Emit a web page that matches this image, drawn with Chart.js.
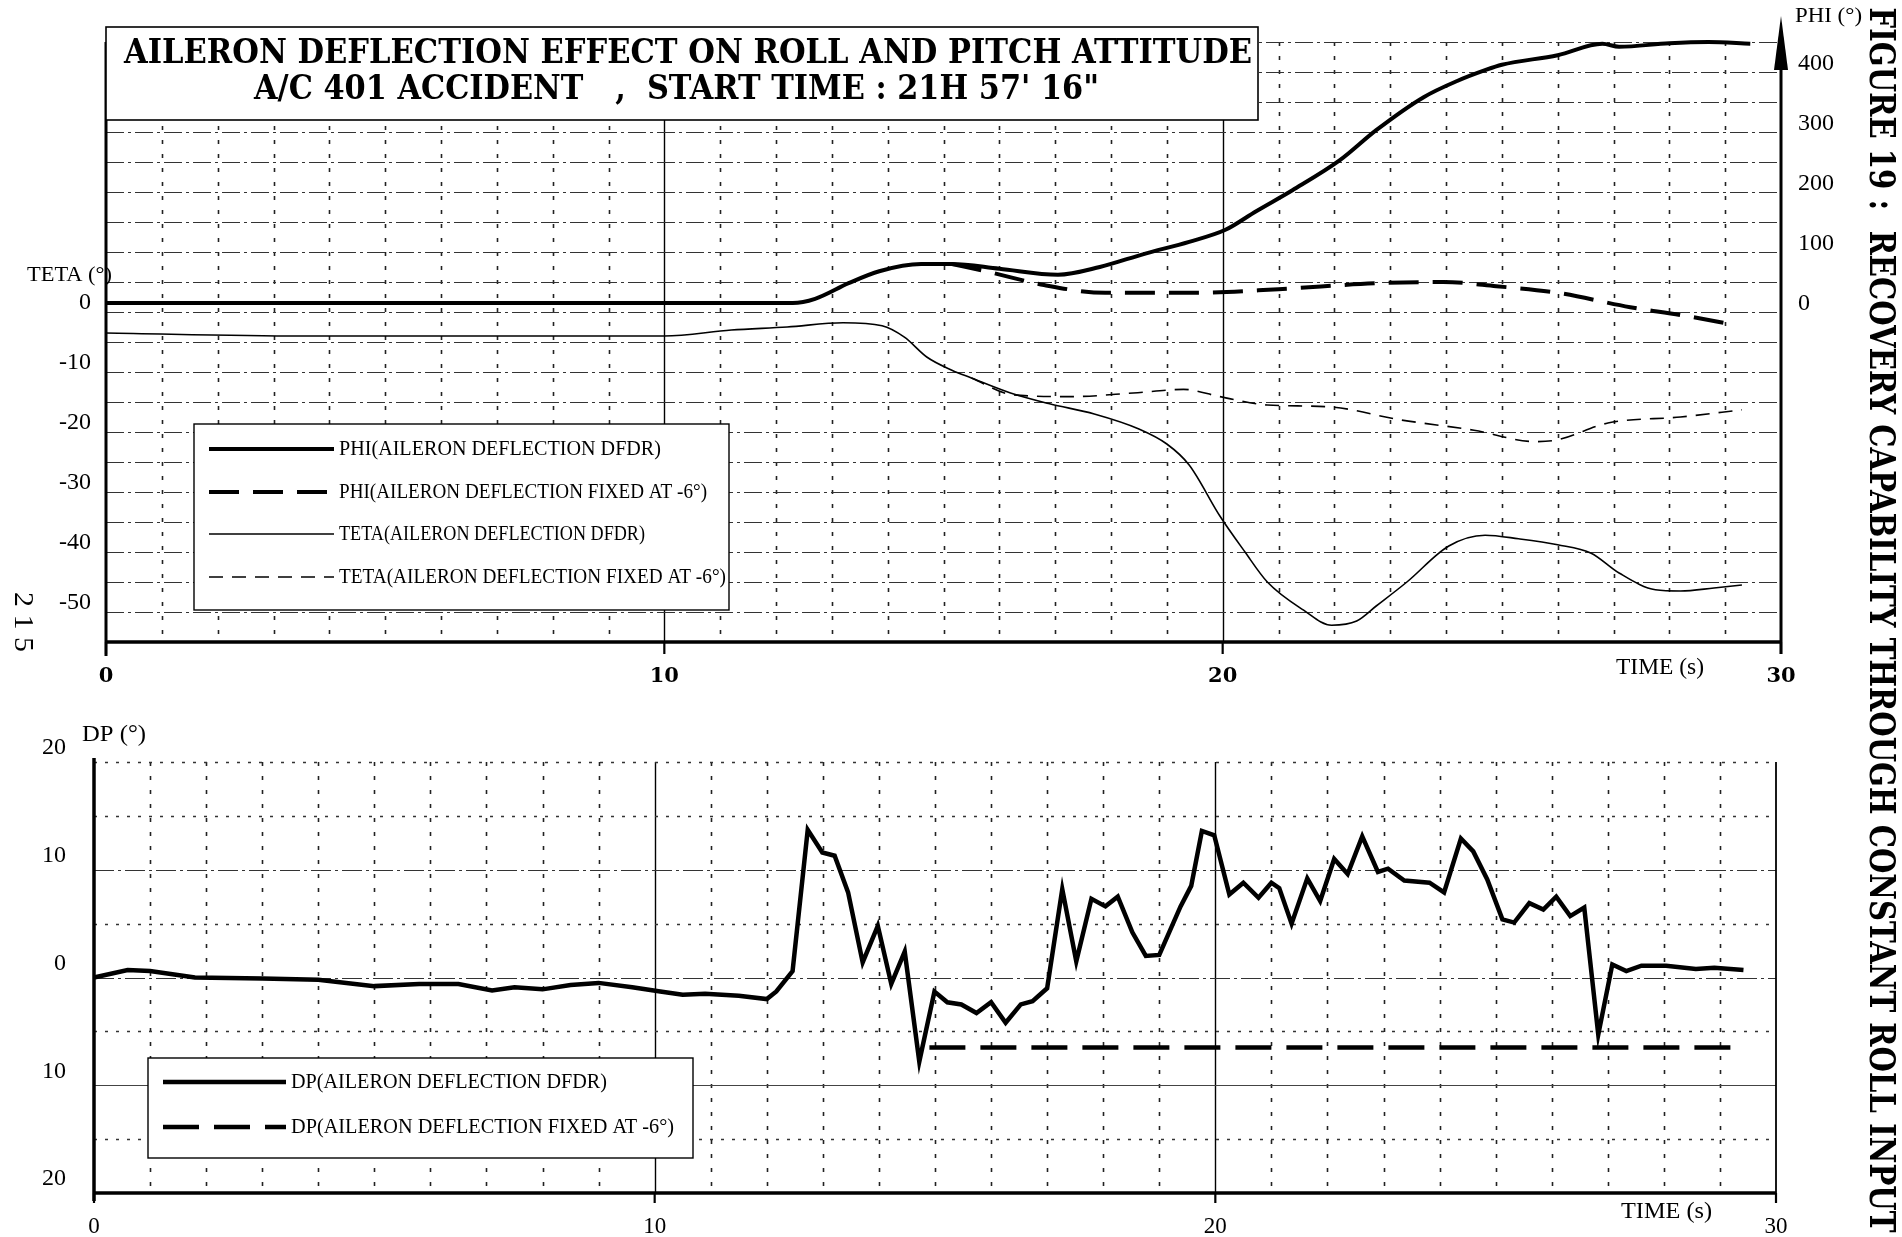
<!DOCTYPE html>
<html>
<head>
<meta charset="utf-8">
<title>Aileron deflection effect on roll and pitch attitude</title>
<script src="https://cdn.jsdelivr.net/npm/chart.js@4.4.1/dist/chart.umd.min.js"></script>
<style>
    html, body { margin: 0; padding: 0; background: #fff; }
    #wrap { position: relative; width: 1902px; height: 1237px; overflow: hidden; background: #fff; }
    #top { position: absolute; left: 0; top: 0; width: 1902px; height: 700px; }
    #bottom { position: absolute; left: 0; top: 700px; width: 1902px; height: 537px; }
    #deco { position: absolute; left: 0; top: 0; pointer-events: none; }
</style>
</head>
<body>
<div id="wrap">
    <canvas id="top" width="1902" height="700"></canvas>
    <canvas id="bottom" width="1902" height="537"></canvas>
    <canvas id="deco" width="1902" height="1237"></canvas>
</div>
<script>
"use strict";

// Values (time in s)
var phiDfdrT = [0, 10, 12.3, 12.7, 13.3, 13.85, 14.6, 15.15, 16.0, 17.05, 17.8, 18.6, 19.4, 20.05, 20.6, 21.25, 22.1, 22.75, 23.6, 24.2, 24.7, 25.0, 26.0, 26.8, 27.1, 28.0, 28.7, 29.45];
var phiDfdr = [15, 15, 15, 22, 48, 68, 80, 80, 72, 62, 75, 97, 117, 137, 168, 203, 253, 303, 358, 385, 403, 412, 428, 447, 442, 448, 450, 447];

var phiFixedT = [15.15, 15.8, 16.8, 17.9, 19.5, 21.0, 22.75, 23.95, 24.9, 26.0, 27.3, 28.2, 29.2];
var phiFixed = [80, 67, 45, 32, 32, 38, 48, 50, 43, 32, 8, -5, -22];

var tetaDfdrT = [0, 3.5, 10, 11.2, 12.2, 13.2, 13.9, 14.3, 14.7, 15.15, 15.5, 16.2, 16.9, 17.7, 18.5, 19.0, 19.4, 19.95, 20.4, 20.8, 21.45, 21.95, 22.4, 22.75, 23.3, 24.05, 24.7, 25.3, 26.0, 26.6, 27.1, 27.75, 28.2, 28.8, 29.3];
var tetaDfdr = [-3.5, -4, -4, -3, -2.5, -1.8, -2.3, -4.2, -7.5, -9.7, -11, -13.5, -15.3, -17, -19.5, -22, -25.5, -34, -40, -45, -49.7, -52.2, -51.5, -49, -45, -39, -37.2, -37.8, -38.8, -40.2, -43.5, -46.3, -46.5, -46, -45.5];

var tetaFixedT = [15.5, 16.25, 17.3, 18.4, 19.3, 19.95, 20.8, 21.9, 23.2, 24.5, 25.6, 26.0, 26.9, 28.2, 29.3];
var tetaFixed = [-11, -13.8, -14.1, -13.5, -12.9, -14.1, -15.5, -15.8, -18, -19.7, -21.6, -21.3, -18.5, -17.5, -16.3];

var dpDfdrT = [0, 0.6, 1.0, 1.8, 3.0, 4.0, 5.0, 5.8, 6.5, 7.1, 7.5, 8.0, 8.5, 9.0, 9.6, 10.1, 10.5, 10.9, 11.5, 12.0, 12.17, 12.46, 12.73, 12.99, 13.21, 13.45, 13.71, 13.98, 14.22, 14.46, 14.72, 14.99, 15.22, 15.47, 15.74, 16.0, 16.26, 16.53, 16.74, 17.0, 17.27, 17.52, 17.79, 18.04, 18.26, 18.52, 18.76, 19.0, 19.38, 19.57, 19.76, 19.98, 20.25, 20.5, 20.77, 21.0, 21.14, 21.36, 21.64, 21.87, 22.12, 22.36, 22.62, 22.9, 23.08, 23.37, 23.82, 24.08, 24.38, 24.6, 24.85, 25.12, 25.33, 25.6, 25.85, 26.08, 26.33, 26.58, 26.83, 27.08, 27.33, 27.6, 28.04, 28.57, 28.9, 29.42];
var dpDfdr = [0, 0.7, 0.6, 0, -0.1, -0.2, -0.8, -0.6, -0.6, -1.2, -0.9, -1.1, -0.7, -0.5, -0.9, -1.3, -1.6, -1.5, -1.7, -2.0, -1.3, 0.6, 13.7, 11.6, 11.3, 7.9, 1.4, 4.8, -0.6, 2.4, -7.8, -1.3, -2.3, -2.5, -3.3, -2.3, -4.2, -2.5, -2.2, -1.0, 8.2, 1.5, 7.3, 6.6, 7.5, 4.2, 2.0, 2.1, 6.6, 8.5, 13.6, 13.2, 7.7, 8.8, 7.4, 8.8, 8.3, 5.0, 9.2, 7.1, 11.0, 9.6, 13.1, 9.8, 10.1, 9.0, 8.8, 7.9, 12.9, 11.7, 9.1, 5.4, 5.1, 6.9, 6.3, 7.5, 5.7, 6.5, -5.3, 1.2, 0.6, 1.1, 1.1, 0.8, 0.9, 0.7];

var dpFixedT = [14.9, 29.4];
var dpFixed = [-6.5, -6.5];

var timeTicks = [0, 10, 20, 30];

var SERIF = '"Liberation Serif", "Times New Roman", serif';
var WIDE = '"DejaVu Serif", serif';

var pairs = function (xs, ys) {
    return xs.map(function (x, i) {
        return { x: x, y: ys[i] };
    });
};

// draw text squeezed or stretched to a given width
var drawFit = function (ctx, text, x, y, width, align) {
    var w = ctx.measureText(text).width;
    ctx.save();
    ctx.translate(x, y);
    ctx.scale(width / w, 1);
    ctx.textAlign = align || 'left';
    ctx.textBaseline = 'middle';
    ctx.fillText(text, 0, 0);
    ctx.restore();
};

var line = function (ctx, x1, y1, x2, y2, width, dash, color) {
    ctx.save();
    ctx.beginPath();
    ctx.lineWidth = width;
    ctx.strokeStyle = color || '#000';
    ctx.setLineDash(dash || []);
    ctx.moveTo(x1, y1);
    ctx.lineTo(x2, y2);
    ctx.stroke();
    ctx.restore();
};

// legend box built from the chart's own datasets
var drawLegendBox = function (chart, opt) {
    var ctx = chart.ctx;
    var b = opt.box;
    ctx.save();
    ctx.fillStyle = '#fff';
    ctx.fillRect(b[0], b[1], b[2] - b[0], b[3] - b[1]);
    ctx.lineWidth = 1.4;
    ctx.strokeStyle = '#000';
    ctx.strokeRect(b[0], b[1], b[2] - b[0], b[3] - b[1]);
    ctx.font = opt.font;
    ctx.fillStyle = '#000';
    chart.data.datasets.forEach(function (ds, i) {
        var y = opt.rows[i];
        line(ctx, opt.line[0], y, opt.line[1], y, ds.borderWidth, ds.borderDash);
        drawFit(ctx, ds.label, opt.textX, y, opt.widths[i]);
    });
    ctx.restore();
};

var topFrame = {
    id: 'topFrame',
    beforeDatasetsDraw: function (chart) {
        var ctx = chart.ctx;
        var a = chart.chartArea;
        var xs = chart.scales.x;
        var ys = chart.scales.y;

        // one-second grid, solid at 10 and 20
        for (var t = 1; t < 30; t++) {
            var px = Math.round(xs.getPixelForValue(t)) + 0.5;
            if (t % 10 === 0) {
                line(ctx, px, a.top, px, a.bottom, 1.4);
            } else {
                line(ctx, px, a.top, px, a.bottom, 1.6, [4, 10], '#222');
            }
        }
        ys.ticks.forEach(function (tk) {
            if (tk.value <= ys.min) {
                return;
            }
            var py = Math.round(ys.getPixelForValue(tk.value)) + 0.5;
            line(ctx, a.left, py, a.right, py, 1.2, [18, 4, 3, 4], '#333');
        });

        // axes
        line(ctx, a.left, a.top, a.left, a.bottom + 14, 3);
        line(ctx, a.left, a.bottom, a.right, a.bottom, 3.5);
        line(ctx, a.right, a.bottom + 12, a.right, 40, 3);
        timeTicks.forEach(function (v) {
            var px = xs.getPixelForValue(v);
            line(ctx, px, a.bottom, px, a.bottom + 12, 2.2);
        });
        // arrow head on the PHI axis
        ctx.save();
        ctx.fillStyle = '#000';
        ctx.beginPath();
        ctx.moveTo(a.right, 16);
        ctx.lineTo(a.right + 7, 70);
        ctx.lineTo(a.right - 7, 70);
        ctx.closePath();
        ctx.fill();
        ctx.restore();
    },
    afterDatasetsDraw: function (chart) {
        var ctx = chart.ctx;
        drawLegendBox(chart, {
            box: [194, 424, 729, 610],
            rows: [449, 492, 534, 577],
            line: [209, 334],
            textX: 339,
            widths: [322, 368, 306, 387],
            font: '22px ' + SERIF
        });

        // title box
        ctx.save();
        ctx.fillStyle = '#fff';
        ctx.fillRect(106, 27, 1152, 93);
        ctx.lineWidth = 1.6;
        ctx.strokeStyle = '#000';
        ctx.strokeRect(106, 27, 1152, 93);
        ctx.fillStyle = '#000';
        ctx.font = 'bold 34px ' + WIDE;
        drawFit(ctx, 'AILERON DEFLECTION EFFECT ON ROLL AND PITCH ATTITUDE', 124, 54, 1128);
        drawFit(ctx, 'A/C 401 ACCIDENT   ,  START TIME : 21H 57\' 16"', 254, 90, 845);

        // axis titles
        ctx.font = '22px ' + SERIF;
        drawFit(ctx, 'TETA (\u00b0)', 27, 275, 85);
        drawFit(ctx, 'PHI (\u00b0)', 1795, 16, 67);
        ctx.font = '23px ' + SERIF;
        drawFit(ctx, 'TIME (s)', 1616, 668, 88);
        ctx.restore();
    }
};

var bottomFrame = {
    id: 'bottomFrame',
    beforeDatasetsDraw: function (chart) {
        var ctx = chart.ctx;
        var a = chart.chartArea;
        var xs = chart.scales.x;
        var ys = chart.scales.y;

        for (var t = 1; t < 30; t++) {
            var px = Math.round(xs.getPixelForValue(t)) + 0.5;
            if (t % 10 === 0) {
                line(ctx, px, a.top, px, a.bottom, 1.4);
            } else {
                line(ctx, px, a.top, px, a.bottom, 1.6, [4, 10], '#222');
            }
        }
        ys.ticks.forEach(function (tk) {
            var v = tk.value;
            if (v <= ys.min) {
                return;
            }
            var py = Math.round(ys.getPixelForValue(v)) + 0.5;
            if (v === 10 || v === 0) {
                line(ctx, a.left, py, a.right, py, 1.2, [20, 4, 3, 4], '#333');
            } else if (v === -10) {
                line(ctx, a.left, py, a.right, py, 1.1, [], '#444');
            } else {
                line(ctx, a.left, py, a.right, py, 1.4, [3, 8], '#333');
            }
        });

        line(ctx, a.left, a.top - 4, a.left, a.bottom + 8, 3.5);
        line(ctx, a.left, a.bottom, a.right, a.bottom, 3.5);
        line(ctx, a.right, a.top, a.right, a.bottom + 8, 1.8);
        timeTicks.forEach(function (v) {
            var px = xs.getPixelForValue(v);
            line(ctx, px, a.bottom, px, a.bottom + 10, 2.2);
        });
    },
    afterDatasetsDraw: function (chart) {
        var ctx = chart.ctx;
        drawLegendBox(chart, {
            box: [148, 358, 693, 458],
            rows: [382, 427],
            line: [163, 286],
            textX: 291,
            widths: [316, 383],
            font: '22px ' + SERIF
        });
        ctx.save();
        ctx.fillStyle = '#000';
        ctx.font = '23px ' + SERIF;
        drawFit(ctx, 'DP (\u00b0)', 82, 35, 64);
        drawFit(ctx, 'TIME (s)', 1621, 512, 91);
        ctx.restore();
    }
};

var fixWidth = function (w) {
    return function (scale) {
        scale.width = w;
    };
};
var fixHeight = function (h) {
    return function (scale) {
        scale.height = h;
    };
};

var lineDs = function (label, data, width, dash, axis, smooth) {
    return {
        label: label,
        data: data,
        yAxisID: axis,
        borderColor: '#000',
        backgroundColor: '#000',
        borderWidth: width,
        borderDash: dash,
        pointRadius: 0,
        fill: false,
        clip: false,
        cubicInterpolationMode: smooth ? 'monotone' : 'default',
        tension: 0
    };
};

var InitFigure = function () {
    var topChart = function () {
        var ctx = document.getElementById('top').getContext('2d');
        return new Chart(ctx, {
            type: 'line',
            data: {
                datasets: [
                    lineDs('PHI(AILERON DEFLECTION DFDR)', pairs(phiDfdrT, phiDfdr), 4, [], 'y2', true),
                    lineDs('PHI(AILERON DEFLECTION FIXED AT -6\u00b0)', pairs(phiFixedT, phiFixed), 4, [30, 14], 'y2', true),
                    lineDs('TETA(AILERON DEFLECTION DFDR)', pairs(tetaDfdrT, tetaDfdr), 1.6, [], 'y', true),
                    lineDs('TETA(AILERON DEFLECTION FIXED AT -6\u00b0)', pairs(tetaFixedT, tetaFixed), 1.6, [14, 9], 'y', true)
                ]
            },
            options: {
                responsive: false,
                animation: false,
                devicePixelRatio: 1,
                events: [],
                layout: { padding: { top: 42, left: 0, right: 0, bottom: 0 } },
                plugins: { legend: { display: false }, tooltip: { enabled: false }, title: { display: false } },
                scales: {
                    x: {
                        type: 'linear',
                        min: 0,
                        max: 30,
                        grid: { display: false, drawTicks: false },
                        border: { display: false },
                        afterFit: fixHeight(58),
                        ticks: {
                            stepSize: 10,
                            autoSkip: false,
                            maxRotation: 0,
                            padding: 22,
                            color: '#000',
                            font: { family: WIDE, size: 21, weight: 'bold' }
                        }
                    },
                    y: {
                        position: 'left',
                        min: -55,
                        max: 45,
                        grid: { display: false, drawTicks: false },
                        border: { display: false },
                        afterFit: fixWidth(106),
                        ticks: {
                            stepSize: 5,
                            autoSkip: false,
                            padding: 15,
                            labelOffset: -9,
                            color: '#000',
                            font: { family: SERIF, size: 24 },
                            callback: function (v) {
                                return (v <= 0 && v >= -50 && v % 10 === 0) ? String(v) : '';
                            }
                        }
                    },
                    y2: {
                        position: 'right',
                        min: -550,
                        max: 450,
                        grid: { display: false, drawTicks: false },
                        border: { display: false },
                        afterFit: fixWidth(121),
                        ticks: {
                            stepSize: 50,
                            autoSkip: false,
                            padding: 17,
                            labelOffset: -8,
                            color: '#000',
                            font: { family: SERIF, size: 24 },
                            callback: function (v) {
                                return (v >= 0 && v <= 400 && v % 100 === 0) ? String(v) : '';
                            }
                        }
                    }
                }
            },
            plugins: [topFrame]
        });
    };

    var bottomChart = function () {
        var ctx = document.getElementById('bottom').getContext('2d');
        return new Chart(ctx, {
            type: 'line',
            data: {
                datasets: [
                    lineDs('DP(AILERON DEFLECTION DFDR)', pairs(dpDfdrT, dpDfdr), 4.5, [], 'y', false),
                    lineDs('DP(AILERON DEFLECTION FIXED AT -6\u00b0)', pairs(dpFixedT, dpFixed), 4.5, [36, 15], 'y', false)
                ]
            },
            options: {
                responsive: false,
                animation: false,
                devicePixelRatio: 1,
                events: [],
                layout: { padding: { top: 62, left: 0, right: 126, bottom: 0 } },
                plugins: { legend: { display: false }, tooltip: { enabled: false }, title: { display: false } },
                scales: {
                    x: {
                        type: 'linear',
                        min: 0,
                        max: 30,
                        grid: { display: false, drawTicks: false },
                        border: { display: false },
                        afterFit: fixHeight(44),
                        ticks: {
                            stepSize: 10,
                            autoSkip: false,
                            maxRotation: 0,
                            padding: 20,
                            color: '#000',
                            font: { family: SERIF, size: 23 }
                        }
                    },
                    y: {
                        position: 'left',
                        min: -20,
                        max: 20,
                        grid: { display: false, drawTicks: false },
                        border: { display: false },
                        afterFit: fixWidth(94),
                        ticks: {
                            stepSize: 5,
                            autoSkip: false,
                            padding: 28,
                            labelOffset: -14,
                            color: '#000',
                            font: { family: SERIF, size: 24 },
                            callback: function (v) {
                                return v % 10 === 0 ? String(Math.abs(v)) : '';
                            }
                        }
                    }
                }
            },
            plugins: [bottomFrame]
        });
    };

    // rotated caption and page number
    var decorations = function () {
        var ctx = document.getElementById('deco').getContext('2d');
        ctx.fillStyle = '#000';

        ctx.save();
        ctx.translate(1879, 620);
        ctx.rotate(Math.PI / 2);
        ctx.font = 'bold 35px ' + WIDE;
        drawFit(ctx, 'FIGURE 19 :  RECOVERY CAPABILITY THROUGH CONSTANT ROLL INPUT', 0, 0, 1225, 'center');
        ctx.restore();

        ctx.save();
        ctx.translate(22, 622);
        ctx.rotate(Math.PI / 2);
        ctx.font = '28px ' + SERIF;
        drawFit(ctx, '2 1 5', 0, 0, 60, 'center');
        ctx.restore();
    };

    return {
        init: function () {
            topChart();
            bottomChart();
            decorations();
        }
    };
}();

InitFigure.init();
</script>
</body>
</html>
